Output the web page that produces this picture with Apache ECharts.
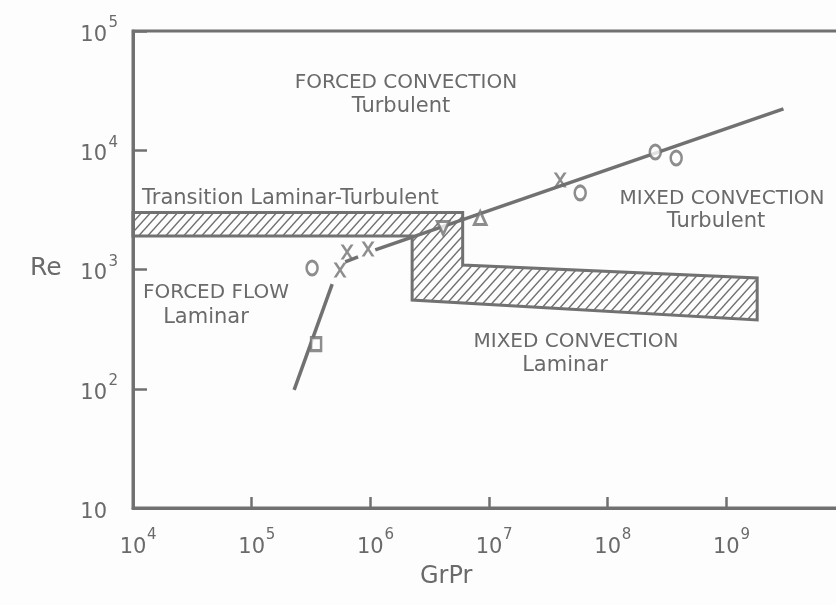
<!DOCTYPE html>
<html>
<head>
<meta charset="utf-8">
<script src="https://cdn.jsdelivr.net/npm/echarts@6/dist/echarts.min.js"></script>
<style>
  html, body { margin: 0; padding: 0; background: #fdfdfd; }
  #chart { width: 836px; height: 605px; }
</style>
</head>
<body>
<div id="chart"></div>
<script>
// axis ranges (decades)
var xRange = [1e4, 1e10]
var yRange = [10, 1e5]

// hatched regime boundary (transition band + mixed laminar region)
var hatchX = [1e4, 6.0e6, 6.0e6, 1.82e9, 1.82e9, 2.25e6, 2.25e6, 1e4]
var hatchY = [3000, 3000, 1090, 850, 378, 555, 1910, 1910]

// curves
var steepX = [2.28e5, 4.77e5]
var steepY = [98, 755]
var kinkX = [6.14e5, 7.88e5]
var kinkY = [1157, 1274]
var upperX = [1.1e6, 3.03e9]
var upperY = [1460, 22200]

// data points by symbol
var circleX = [3.23e5, 5.87e7, 2.52e8, 3.78e8]
var circleY = [1030, 4385, 9660, 8610]
var crossX = [5.56e5, 6.37e5, 9.57e5, 3.98e7]
var crossY = [991, 1403, 1487, 5640]
var squareX = [3.49e5]
var squareY = [237]
var triDownX = [4.11e6]
var triDownY = [2228]
var triUpX = [8.43e6]
var triUpY = [2704]

var ink = '#717171'
var textInk = '#6a6a6a'
var font = 'DejaVu Sans'

function zip (xs, ys) {
  return xs.map(function (x, i) { return [x, ys[i]] })
}

function makeHatch () {
  var c = document.createElement('canvas')
  c.width = 9
  c.height = 10
  var g = c.getContext('2d')
  g.strokeStyle = ink
  g.lineWidth = 1.5
  g.beginPath()
  g.moveTo(0, 10); g.lineTo(9, 0)
  g.moveTo(-2, 2.22); g.lineTo(2, -2.22)
  g.moveTo(7, 12.22); g.lineTo(11, 7.78)
  g.stroke()
  return c
}

function expLabel (v, centered) {
  var e = Math.round(Math.log10(v))
  if (e === 10) return ''
  if (e === 1) return '{b|10}{e|}'
  return (centered ? '{p|}' : '') + '{b|10}{s|' + e + '}'
}

var richLabel = {
  b: { fontSize: 21, color: textInk, fontFamily: font, lineHeight: 30, verticalAlign: 'bottom' },
  s: { fontSize: 15, color: textInk, fontFamily: font, lineHeight: 30, verticalAlign: 'top', width: 11 },
  e: { width: 11 },
  p: { width: 11 }
}

var hollow = { color: '#fdfdfd', borderColor: ink, borderWidth: 2.8 }
var crossPath = 'path://M0 0L2.8 0L6 5L9.2 0L12 0L7.4 7L12 14L9.2 14L6 9L2.8 14L0 14L4.6 7Z'

function drawChart () {
  var hatch = makeHatch()
  var chart = echarts.init(document.getElementById('chart'))

  var lineStyle = { color: ink, width: 3.5 }
  var capFont = '20px ' + font
  var mixFont = '21px ' + font
  var option = {
    backgroundColor: '#fdfdfd',
    animation: false,
    grid: {
      left: 133,
      top: 31,
      right: -9,
      bottom: 97,
      outerBoundsMode: 'none',
      containLabel: false,
      show: true,
      borderColor: ink,
      borderWidth: 3
    },
    xAxis: {
      type: 'log',
      logBase: 10,
      min: xRange[0],
      max: xRange[1],
      interval: 1,
      axisLine: { show: true, lineStyle: { color: ink, width: 3 } },
      axisTick: { show: true, inside: true, length: 11, lineStyle: { color: ink, width: 2.5 } },
      splitLine: { show: false },
      axisLabel: {
        margin: 20,
        formatter: function (v) { return expLabel(v, true) },
        rich: richLabel
      }
    },
    yAxis: {
      type: 'log',
      logBase: 10,
      min: yRange[0],
      max: yRange[1],
      interval: 1,
      axisLine: { show: true, lineStyle: { color: ink, width: 3 } },
      axisTick: { show: true, inside: true, length: 14, lineStyle: { color: ink, width: 2.5 } },
      splitLine: { show: false },
      axisLabel: {
        margin: 15,
        formatter: function (v) { return expLabel(v, false) },
        rich: richLabel
      }
    },
    series: [
      {
        type: 'custom',
        z: 1,
        data: [[hatchX[0], hatchY[0]]],
        renderItem: function (params, api) {
          var pts = hatchX.map(function (x, i) { return api.coord([x, hatchY[i]]) })
          return {
            type: 'polygon',
            shape: { points: pts },
            style: { fill: { image: hatch, repeat: 'repeat' }, stroke: ink, lineWidth: 3 }
          }
        }
      },
      { type: 'line', data: zip(steepX, steepY), symbol: 'none', lineStyle: lineStyle, z: 2 },
      { type: 'line', data: zip(kinkX, kinkY), symbol: 'none', lineStyle: lineStyle, z: 2 },
      { type: 'line', data: zip(upperX, upperY), symbol: 'none', lineStyle: lineStyle, z: 2 },
      { type: 'scatter', data: zip(circleX, circleY), symbol: 'circle', symbolSize: [11, 14], itemStyle: hollow, z: 3 },
      { type: 'scatter', data: zip(crossX, crossY), symbol: crossPath, symbolSize: [13, 15], itemStyle: { color: ink }, z: 3 },
      { type: 'scatter', data: zip(squareX, squareY), symbol: 'rect', symbolSize: [10, 13], itemStyle: hollow, z: 3 },
      { type: 'scatter', data: zip(triDownX, triDownY), symbol: 'triangle', symbolRotate: 180, symbolSize: [12, 13], itemStyle: hollow, z: 3 },
      { type: 'scatter', data: zip(triUpX, triUpY), symbol: 'triangle', symbolSize: [12, 13], itemStyle: hollow, z: 3 }
    ],
    graphic: [
      { type: 'text', left: 30, top: 256, style: { text: 'Re', font: '25px ' + font, fill: textInk } },
      { type: 'text', left: 420, top: 565, style: { text: 'GrPr', font: '24px ' + font, fill: textInk } },
      { type: 'text', x: 406, y: 83, style: { text: 'FORCED CONVECTION', font: capFont, fill: textInk, align: 'center', verticalAlign: 'middle' } },
      { type: 'text', x: 401, y: 107, style: { text: 'Turbulent', font: mixFont, fill: textInk, align: 'center', verticalAlign: 'middle' } },
      { type: 'text', x: 142, y: 199, style: { text: 'Transition Laminar-Turbulent', font: mixFont, fill: textInk, align: 'left', verticalAlign: 'middle' } },
      { type: 'text', x: 143, y: 293, style: { text: 'FORCED FLOW', font: capFont, fill: textInk, align: 'left', verticalAlign: 'middle' } },
      { type: 'text', x: 206, y: 318, style: { text: 'Laminar', font: mixFont, fill: textInk, align: 'center', verticalAlign: 'middle' } },
      { type: 'text', x: 722, y: 199, style: { text: 'MIXED CONVECTION', font: capFont, fill: textInk, align: 'center', verticalAlign: 'middle' } },
      { type: 'text', x: 716, y: 222, style: { text: 'Turbulent', font: mixFont, fill: textInk, align: 'center', verticalAlign: 'middle' } },
      { type: 'text', x: 576, y: 342, style: { text: 'MIXED CONVECTION', font: capFont, fill: textInk, align: 'center', verticalAlign: 'middle' } },
      { type: 'text', x: 565, y: 366, style: { text: 'Laminar', font: mixFont, fill: textInk, align: 'center', verticalAlign: 'middle' } }
    ]
  }
  chart.setOption(option)
}

drawChart()
</script>
</body>
</html>
